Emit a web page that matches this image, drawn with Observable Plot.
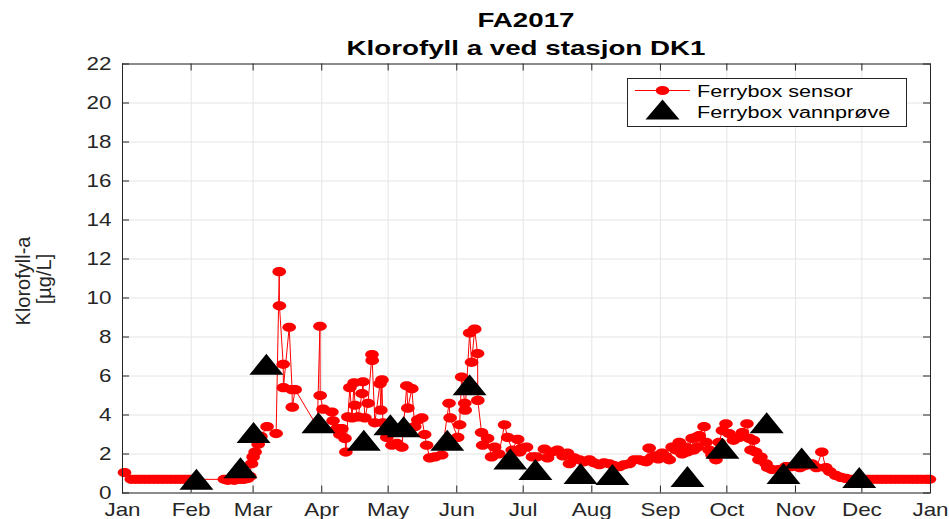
<!DOCTYPE html>
<html><head><meta charset="utf-8">
<script src="https://cdn.jsdelivr.net/npm/d3@7"></script>
<script src="https://cdn.jsdelivr.net/npm/@observablehq/plot@0.6"></script>
<style>
body{margin:0;background:#fff;}
#wrap{position:relative;width:949px;height:519px;overflow:hidden;font-family:"Liberation Sans",Arial,sans-serif;background:#fff;}
#wrap svg{display:block;}
#header{overflow:visible;position:relative;z-index:2;}
#overlay{position:absolute;left:0;top:0;pointer-events:none;z-index:3;}
</style></head><body><div id="wrap"></div>
<script>
// ---------- data ----------
const titleLines = ["FA2017", "Klorofyll a ved stasjon DK1"];
const yLabelLines = ["Klorofyll-a", "[µg/L]"];
const legendLabels = ["Ferrybox sensor", "Ferrybox vannprøve"];
const monthTicks = ["2017-01-01","2017-02-01","2017-03-01","2017-04-01","2017-05-01","2017-06-01","2017-07-01","2017-08-01","2017-09-01","2017-10-01","2017-11-01","2017-12-01","2018-01-01"];
const monthLabels = ["Jan","Feb","Mar","Apr","May","Jun","Jul","Aug","Sep","Oct","Nov","Dec","Jan"];
const yTicks = [0,2,4,6,8,10,12,14,16,18,20,22];

// Ferrybox sensor: [day of 2017 (days since 1 Jan), chlorophyll µg/L]
const sensor = [
[0.9,1.05],[4,0.7],[6,0.7],[8,0.7],[10,0.7],[12,0.7],[14,0.7],[16,0.7],[18,0.7],[20,0.7],[22,0.7],[24,0.7],[26,0.7],[28,0.7],[30,0.7],[31.5,0.7],
[46,0.7],[47.5,0.65],[49,0.7],[50.5,0.65],[52,0.7],[53.5,0.7],[55,0.7],[56.5,0.75],[57.5,0.85],[58.3,1.5],[59,1.85],[59.9,2.1],[61.3,2.5],[62.5,2.9],[65.3,3.4],[69.4,3.05],
[70.8,11.35],[70.9,9.6],[72.6,6.6],[72.7,5.4],[75.3,8.5],[76.6,5.3],[76.7,4.4],[78,5.3],[88,3.4],[89.2,8.55],[89.3,5.0],[90.6,4.3],[94.6,4.15],[95.1,3.7],[96.9,3.3],[98.2,3.0],[99.1,3.3],[100.5,2.8],[100.9,2.1],[101.8,3.9],
[102.7,5.4],[103.7,3.85],[104.6,5.65],[105,4.5],[106.4,3.9],[108.2,5.1],[108.6,5.7],[109.5,3.85],[110.9,4.6],[112.7,7.1],[112.8,6.8],[114,3.6],[116.3,5.6],[116.7,4.25],[117.2,5.8],[117.6,3.6],[119.4,2.85],[121.7,2.45],[123.9,2.55],[126.2,2.35],
[128.4,5.5],[128.9,4.35],[130.7,5.35],[132,3.4],[133.4,3.75],[135.2,3.85],[136.5,3.0],[137.4,2.45],[138.8,1.8],[141.1,1.85],[144.2,1.95],[147.5,4.6],[148,3.85],[151.4,2.85],[152.3,3.5],[153.2,5.95],[154.6,4.6],[154.8,4.25],
[156.8,8.2],[157.7,6.7],[159.1,8.4],[160.4,7.15],[160.5,4.75],[162.2,3.1],[162.7,2.45],[164.9,2.8],[166.7,1.85],[168.1,2.35],[170,2.0],[172.6,3.5],[174,2.85],[176,2.2],[178.5,2.75],[179.4,2.1],[180.3,2.3],[182.5,2.35],[185.2,1.85],[187,1.85],
[190.6,2.25],[192,1.8],[194,2.1],[196.5,2.2],[199,1.9],[201,2.05],[201.9,1.5],[204,1.8],[206.4,1.7],[208.5,1.6],[210.9,1.7],[213,1.55],[215.4,1.45],[217.5,1.55],[219.9,1.5],[222,1.4],[224.4,1.35],[226.5,1.45],[228.9,1.5],[231.2,1.7],[233.4,1.7],[235,1.65],[236.6,1.6],
[237.9,2.3],[238.8,1.8],[240.5,1.9],[242,1.75],[243.8,2.05],[245.5,1.85],[247,1.7],[248.3,2.35],[250.1,2.2],[251.5,2.6],[252.8,2.0],[254.6,2.35],[255.1,2.1],[257.3,2.8],[258,2.2],[259.1,2.85],[259.6,2.35],[260.5,2.95],[262.7,3.4],[263.6,2.6],[265,2.2],[266.3,1.95],[268.1,1.7],
[269.5,2.6],[271,3.2],[272.6,3.55],[274,3.05],[276,2.7],[278.5,2.85],[280,3.1],[282.1,3.55],[283.2,2.8],[283.9,2.2],[285,2.7],[286,2.1],[287.5,1.7],[288.4,1.85],[290.7,1.5],[291.5,1.3],[293.4,1.2],[296.5,1.2],[299.7,1.35],[302,1.35],[304,1.4],[306,1.3],[308,1.4],[310,1.45],[311.4,1.5],[313.5,1.3],[315.9,2.1],[317.7,1.3],[319.5,1.1],[322.2,0.9],[324.5,0.8],[326.7,0.75],
[329,0.7],[331,0.7],[333,0.7],[335,0.7],[337,0.7],[339,0.7],[341,0.7],[343,0.7],[345,0.7],[347,0.7],[349,0.7],[351,0.7],[353,0.7],[355,0.7],[357,0.7],[359,0.7],[361,0.7],[363,0.7],[364.5,0.7]
];

// Ferrybox water samples
const sampleDay   = [33.4, 53.3, 59.2, 65, 88.5, 109, 121, 127, 146.7, 156.8, 175.2, 186.5, 206.9, 221.3, 255.2, 271, 291, 298.6, 306.8, 332.8];
const sampleValue = [0.7, 1.3, 3.1, 6.6, 3.6, 2.7, 3.5, 3.4, 2.7, 5.55, 1.75, 1.2, 1.0, 0.95, 0.85, 2.3, 3.6, 1.0, 1.8, 0.8];

// ---------- build ----------
const t0 = Date.UTC(2017, 0, 1);
const toDate = d => new Date(t0 + d * 86400000);
const sensorData = sensor.map(([d, v]) => ({date: toDate(d), value: v}));
const sampleData = sampleDay.map((d, i) => ({date: toDate(d), value: sampleValue[i]}));
const tickDates = monthTicks.map(s => new Date(s + "T00:00:00Z"));

const W = 949, H = 519, headerH = 56;
const mL = 122, mR = 19, mT = 63.5 - headerH, mB = 26.5;
const plotH = H - headerH, innerW = W - mL - mR, innerH = plotH - mT - mB;
const ink = "#262626", font = "'Liberation Sans', Arial, sans-serif";

const ellipse = {draw(ctx) {
  const rx = 6.8, ry = 4.6, k = 0.5523;
  ctx.moveTo(rx, 0);
  ctx.bezierCurveTo(rx, ry * k, rx * k, ry, 0, ry);
  ctx.bezierCurveTo(-rx * k, ry, -rx, ry * k, -rx, 0);
  ctx.bezierCurveTo(-rx, -ry * k, -rx * k, -ry, 0, -ry);
  ctx.bezierCurveTo(rx * k, -ry, rx, -ry * k, rx, 0);
  ctx.closePath();
}};
const tri = {draw(ctx) {
  ctx.moveTo(0, -10.5); ctx.lineTo(17, 10.5); ctx.lineTo(-17, 10.5); ctx.closePath();
}};

const wrap = document.getElementById("wrap");

// header with title
const header = d3.select(wrap).append("svg").attr("id", "header").attr("width", W).attr("height", headerH);
header.append("text").attr("x", 526).attr("y", 27).text(titleLines[0]);
header.append("text").attr("x", 526).attr("y", 54.5).text(titleLines[1]);
header.selectAll("text").attr("text-anchor", "middle").attr("font-family", font)
  .attr("font-weight", "bold").attr("font-size", 21).attr("fill", "#000");

const chart = Plot.plot({
  width: W, height: plotH,
  marginLeft: mL, marginRight: mR, marginTop: mT, marginBottom: mB,
  x: {type: "utc", domain: [tickDates[0], tickDates[tickDates.length - 1]]},
  y: {domain: [0, 22]},
  style: {fontFamily: font, fontSize: "19px", color: ink, background: "transparent", overflow: "visible"},
  marks: [
    Plot.gridX(tickDates, {stroke: "#e4e4e4", strokeOpacity: 1}),
    Plot.gridY(yTicks, {stroke: "#e4e4e4", strokeOpacity: 1}),
    Plot.tickX(tickDates, {x: d => d, insetTop: innerH - 7, stroke: ink}),
    Plot.tickX(tickDates, {x: d => d, insetBottom: innerH - 7, stroke: ink}),
    Plot.tickY(yTicks, {y: d => d, insetRight: innerW - 7, stroke: ink}),
    Plot.tickY(yTicks, {y: d => d, insetLeft: innerW - 7, stroke: ink}),
    Plot.axisX(tickDates, {tickSize: 0, tickPadding: 9, label: null, fill: ink,
      tickFormat: d => monthLabels[tickDates.findIndex(t => +t === +d)]}),
    Plot.axisY(yTicks, {tickSize: 0, tickPadding: 11, label: null, fill: ink}),
    Plot.line(sensorData, {x: "date", y: "value", stroke: "#ff0000", strokeWidth: 1}),
    Plot.dot(sensorData, {x: "date", y: "value", symbol: ellipse, fill: "#ff0000"}),
    Plot.dot(sampleData, {x: "date", y: "value", symbol: tri, fill: "#000"}),
    Plot.frame({stroke: ink})
  ]
});
wrap.appendChild(chart);

// overlay: y label + legend
const ov = d3.select(wrap).append("svg").attr("id", "overlay").attr("width", W).attr("height", H);
ov.append("text").attr("transform", "translate(23,281) rotate(-90)").attr("dy", "0.35em").text(yLabelLines[0]);
ov.append("text").attr("transform", "translate(44,279) rotate(-90)").attr("dy", "0.35em").text(yLabelLines[1]);
ov.selectAll("text").attr("text-anchor", "middle").attr("font-family", font).attr("font-size", 20).attr("fill", ink);

const lg = ov.append("g");
lg.append("rect").attr("x", 627.5).attr("y", 78.5).attr("width", 279).attr("height", 48)
  .attr("fill", "#fff").attr("stroke", ink).attr("stroke-width", 1);
lg.append("line").attr("x1", 635).attr("x2", 690).attr("y1", 90.5).attr("y2", 90.5).attr("stroke", "#ff0000").attr("stroke-width", 1);
lg.append("ellipse").attr("cx", 662.5).attr("cy", 90.5).attr("rx", 6.8).attr("ry", 4.6).attr("fill", "#ff0000");
lg.append("path").attr("d", "M662.5,99.5L679.5,119.5L645.5,119.5Z").attr("fill", "#000");
const lt = lg.selectAll("text.l").data(legendLabels).join("text").attr("class", "l")
  .attr("x", 697).attr("y", (d, i) => i === 0 ? 97 : 118).text(d => d)
  .attr("font-family", font).attr("font-size", 16).attr("fill", "#000");

// horizontal stretch of text to mimic the reference rendering
function stretch(sel, k) {
  sel.each(function() {
    const w = this.getComputedTextLength();
    if (w > 0) { this.setAttribute("textLength", w * k); this.setAttribute("lengthAdjust", "spacingAndGlyphs"); }
  });
}
stretch(header.selectAll("text"), 1.32);
stretch(d3.select(chart).selectAll("text"), 1.18);
stretch(lt, 1.35);
</script></body></html>
